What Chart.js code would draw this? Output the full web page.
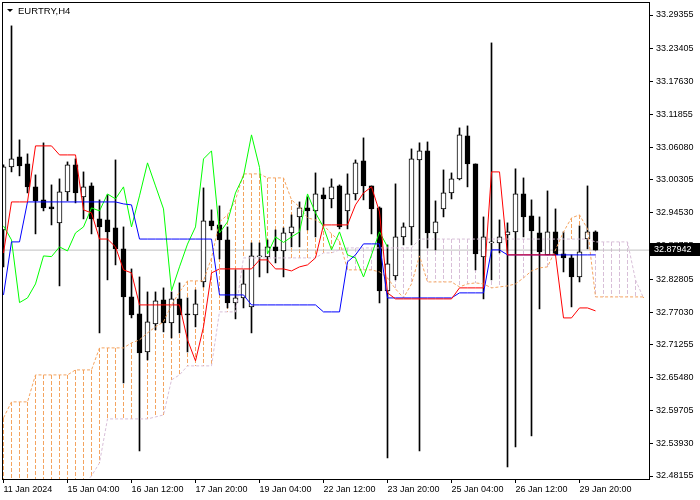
<!DOCTYPE html>
<html>
<head>
<meta charset="utf-8">
<script src="https://cdn.jsdelivr.net/npm/chart.js@4.4.1/dist/chart.umd.min.js"></script>
<style>
  html, body { margin: 0; padding: 0; background: #fff; }
  canvas { display: block; }
</style>
</head>
<body>
<canvas id="ichimokuChart" width="700" height="500"></canvas>
<script>
// EURTRY H4, bar 0 = 11 Jan 2024, last bar = 74
const opens = [
  32.9150, 33.0260, 33.0436, 33.0313, 32.9908, 32.9679, 32.9555, 32.9274, 32.9820, 33.0295,
  32.9732, 32.9925, 32.9344, 32.9326, 32.9185, 32.8816, 32.7970, 32.7671, 32.7001, 32.7495,
  32.7917, 32.7512, 32.7935, 32.7671, 32.7653, 32.8234, 32.9309, 32.9238, 32.8974, 32.7864,
  32.7952, 32.7794, 32.8675, 32.8675, 32.8851, 32.8780, 32.9097, 32.9379, 32.9538, 32.9485,
  32.9767, 32.9696, 32.9925, 32.9485, 32.9784, 33.0366, 32.9925, 32.9538, 32.8076, 32.8340,
  32.9027, 32.9203, 33.0383, 33.0542, 32.9097, 32.9520, 32.9802, 33.0049, 33.0806, 33.0313,
  32.8675, 32.8921, 32.8921, 32.9062, 32.9115, 32.9784, 32.9397, 32.9097, 32.8710, 32.9115,
  32.8727, 32.8657, 32.8322, 32.8992, 32.9115
];
const highs = [
  33.0295, 33.2744, 33.0736, 33.0489, 33.0119, 33.0683, 32.9943, 33.0049, 33.0348, 33.0401,
  33.0172, 32.9978, 32.9679, 32.9767, 33.0383, 32.9203, 32.8463, 32.8322, 32.8058, 32.8058,
  32.8129, 32.8058, 32.8217, 32.7952, 32.8093, 32.9890, 32.9503, 32.9573, 32.9203, 32.8446,
  32.8446, 32.8921, 32.8921, 32.8974, 32.9150, 32.9185, 32.9414, 32.9643, 32.9732, 33.0154,
  32.9890, 33.0049, 32.9943, 33.0137, 33.0383, 33.0771, 32.9925, 32.9555, 32.8886, 32.9961,
  32.9274, 33.0577, 33.0683, 33.0700, 32.9661, 33.0207, 33.0154, 33.0947, 33.0982, 33.0313,
  32.9379, 33.2444, 32.9326, 32.9274, 33.0225, 33.0066, 32.9679, 32.9379, 32.9837, 32.9520,
  32.9115, 32.8710, 32.9221, 32.9925, 32.9133
];
const lows = [
  32.8499, 33.0172, 33.0102, 32.9802, 32.9080, 32.9485, 32.9238, 32.8164, 32.9661, 32.9626,
  32.9344, 32.9080, 32.7336, 32.8270, 32.8534, 32.6455, 32.7600, 32.5257, 32.6860, 32.7389,
  32.7354, 32.7248, 32.7336, 32.7001, 32.7442, 32.8146, 32.9150, 32.8639, 32.7776, 32.7583,
  32.7776, 32.7336, 32.8322, 32.8393, 32.8569, 32.8322, 32.8851, 32.8851, 32.9150, 32.9027,
  32.9238, 32.9538, 32.9168, 32.9168, 32.9679, 32.9679, 32.9080, 32.7864, 32.5134, 32.8270,
  32.8886, 32.8886, 32.5257, 32.8833, 32.8798, 32.9379, 32.9696, 33.0031, 32.9908, 32.8446,
  32.7935, 32.8270, 32.8745, 32.4975, 32.5328, 32.9027, 32.5522, 32.7759, 32.8710, 32.8710,
  32.8410, 32.7794, 32.8234, 32.8816, 32.8794
];
const closes = [
  33.0260, 33.0401, 33.0278, 32.9908, 32.9661, 32.9538, 32.9520, 32.9820, 33.0295, 32.9802,
  32.9908, 32.9344, 32.9203, 32.9115, 32.8816, 32.7970, 32.7653, 32.6984, 32.7530, 32.7900,
  32.7512, 32.7935, 32.7653, 32.7653, 32.7847, 32.9309, 32.9221, 32.8974, 32.7864, 32.7952,
  32.8199, 32.8692, 32.8680, 32.8851, 32.8780, 32.9097, 32.9203, 32.9538, 32.9485, 32.9784,
  32.9696, 32.9908, 32.9203, 32.9784, 33.0331, 32.9925, 32.9520, 32.8076, 32.8551, 32.9027,
  32.9203, 33.0401, 33.0542, 32.9097, 32.9291, 32.9802, 33.0049, 33.0824, 33.0313, 32.8727,
  32.9027, 32.8930, 32.9027, 32.9115, 32.9784, 32.9379, 32.9133, 32.8763, 32.9115, 32.8710,
  32.8657, 32.8322, 32.8763, 32.9115, 32.87942
];

// Ichimoku lines as they appear on the chart
const tenkan = [
  32.8745, 32.9643, 32.9643, 32.9643, 33.0630, 33.0630, 33.0630, 33.0471, 33.0471, 33.0471,
  32.9503, 32.9450, 32.8989, 32.8989, 32.8851, 32.8446, 32.8393, 32.7829, 32.7829, 32.7829,
  32.7829, 32.7829, 32.7829, 32.7213, 32.6843, 32.7442, 32.8393, 32.8463, 32.8463, 32.8463,
  32.8463, 32.8463, 32.8622, 32.8622, 32.8463, 32.8463, 32.8428, 32.8499, 32.8534, 32.8657,
  32.9238, 32.9238, 32.9238, 32.9238, 32.9591, 32.9802, 32.9908, 32.9467, 32.8041, 32.7935,
  32.7935, 32.7935, 32.7935, 32.7935, 32.7935, 32.7935, 32.7935, 32.8129, 32.8129, 32.8129,
  32.8129, 33.0172, 33.0172, 32.8710, 32.8710, 32.8710, 32.8710, 32.8710, 32.8710, 32.8710,
  32.7600, 32.7600, 32.7776, 32.7776, 32.7724
];
const kijun = [
  32.8005, 32.8939, 32.8939, 32.9643, 32.9643, 32.9643, 32.9643, 32.9643, 32.9643, 32.9643,
  32.9643, 32.9643, 32.9643, 32.9643, 32.9643, 32.9608, 32.9591, 32.8989, 32.8989, 32.8989,
  32.8989, 32.8989, 32.8989, 32.8989, 32.8989, 32.8989, 32.8989, 32.8005, 32.8005, 32.8005,
  32.8005, 32.7829, 32.7829, 32.7829, 32.7829, 32.7829, 32.7829, 32.7829, 32.7829, 32.7829,
  32.7706, 32.7706, 32.7706, 32.8587, 32.8710, 32.8904, 32.8904, 32.8904, 32.7952, 32.7952,
  32.7952, 32.7952, 32.7952, 32.7952, 32.7952, 32.7952, 32.7952, 32.8041, 32.8041, 32.8041,
  32.8041, 32.8798, 32.8798, 32.8710, 32.8710, 32.8710, 32.8710, 32.8710, 32.8710, 32.8710,
  32.8710, 32.8710, 32.8710, 32.8710, 32.8710
];
const chikou = [
  32.9221, 32.8974, 32.7870, 32.7952, 32.8199, 32.8692, 32.8680, 32.8851, 32.8780, 32.9097,
  32.9203, 32.9538, 32.9485, 32.9784, 32.9696, 32.9908, 32.9203, 32.9750, 33.0331, 32.9925,
  32.9520, 32.8076, 32.8500, 32.8900, 32.9203, 33.0401, 33.0542, 32.9097, 32.9291, 32.9802,
  33.0100, 33.0824, 33.0250, 32.8727, 32.9027, 32.8930, 32.9027, 32.9115, 32.9784, 32.9450,
  32.9200, 32.8798, 32.9115, 32.8710, 32.8657, 32.8322, 32.8710, 32.9115, 32.8851
];
const spanA = [
  32.5839, 32.6121, 32.6121, 32.6121, 32.6596, 32.6596, 32.6596, 32.6596, 32.6596, 32.6684,
  32.6684, 32.6684, 32.7072, 32.7072, 32.7072, 32.7072, 32.7160, 32.7213, 32.7336, 32.7442,
  32.7530, 32.7829, 32.8058, 32.8252, 32.8252, 32.8252, 32.8657, 32.9291, 32.9415, 32.9679,
  33.0137, 33.0137, 33.0137, 33.0066, 33.0066, 33.0066, 32.9679, 32.9555, 32.9362, 32.9326,
  32.9238, 32.9080, 32.8957, 32.8446, 32.8446, 32.8446, 32.8446, 32.8410, 32.8305, 32.8111,
  32.7952, 32.8199, 32.8692, 32.8234, 32.8234, 32.8234, 32.8234, 32.8146, 32.8199, 32.8217,
  32.8199, 32.8129, 32.8146, 32.8164, 32.8199, 32.8305, 32.8428, 32.8481, 32.8499, 32.8798,
  32.9115, 32.9362, 32.9415, 32.9168, 32.7970, 32.7970, 32.7970, 32.7970, 32.7970, 32.7970,
  32.7970
];
const spanB = [
  32.4650, 32.4650, 32.4650, 32.4650, 32.4650, 32.4650, 32.4650, 32.4650, 32.4650, 32.4650,
  32.4650, 32.4817, 32.5046, 32.5821, 32.5821, 32.5821, 32.5821, 32.5821, 32.5821, 32.5856,
  32.5891, 32.6508, 32.6596, 32.6755, 32.6755, 32.6755, 32.6755, 32.7706, 32.7706, 32.7706,
  32.8657, 32.8657, 32.8657, 32.8657, 32.8657, 32.8657, 32.8657, 32.8657, 32.8657, 32.8657,
  32.8745, 32.8745, 32.8798, 32.8833, 32.8833, 32.8833, 32.8833, 32.8833, 32.8833, 32.8833,
  32.8833, 32.8833, 32.8989, 32.8989, 32.8989, 32.8989, 32.8989, 32.8989, 32.8989, 32.8989,
  32.8989, 32.8989, 32.8989, 32.8989, 32.8989, 32.8989, 32.8989, 32.8989, 32.8989, 32.8989,
  32.8989, 32.8989, 32.8989, 32.8989, 32.8939, 32.8939, 32.8939, 32.8939, 32.8939, 32.8270,
  32.7952
];

const xTickLabels = ['11 Jan 2024', '15 Jan 04:00', '16 Jan 12:00', '17 Jan 20:00', '19 Jan 04:00',
  '22 Jan 12:00', '23 Jan 20:00', '25 Jan 04:00', '26 Jan 12:00', '29 Jan 20:00'];
const xTickBars = [0, 8, 16, 24, 32, 40, 48, 56, 64, 72];
const yTickValues = [33.29355, 33.23405, 33.17630, 33.11855, 33.06080, 33.00305, 32.94530, 32.88755,
  32.82805, 32.77030, 32.71255, 32.65480, 32.59705, 32.53930, 32.48155];
const lastPrice = 32.87942;
const symbolTitle = 'EURTRY,H4';

const FONT = 'Liberation Sans, Arial, sans-serif';

//helper to turn an array into {x, y} points
function toPoints(values) {
    return values.map((v, i) => ({ x: i, y: v }));
}

// dashed vertical lines between the two senkou spans (1px dashes, 4 on / 2 off)
const cloudHatch = {
    id: 'cloudHatch',
    beforeDatasetsDraw(chart) {
        const { ctx, chartArea, scales } = chart;
        ctx.save();
        ctx.beginPath();
        ctx.rect(chartArea.left, chartArea.top, chartArea.right - chartArea.left, chartArea.bottom - chartArea.top);
        ctx.clip();
        spanA.forEach((a, i) => {
            const b = spanB[i];
            const px = Math.floor(scales.x.getPixelForValue(i));
            const top = Math.round(scales.y.getPixelForValue(Math.max(a, b)));
            const bottom = Math.round(scales.y.getPixelForValue(Math.min(a, b)));
            ctx.fillStyle = a >= b ? '#f4a460' : '#d8bfd8';
            for (let py = top; py < bottom; py += 6) {
                ctx.fillRect(px, py, 1, Math.min(4, bottom - py));
            }
        });
        ctx.restore();
    }
};

// frame, symbol title and last price label
const chartDecor = {
    id: 'chartDecor',
    afterDraw(chart) {
        const { ctx, chartArea, scales } = chart;
        ctx.save();
        ctx.strokeStyle = '#000';
        ctx.lineWidth = 1;
        ctx.strokeRect(chartArea.left - 0.5, chartArea.top - 0.5,
            chartArea.right - chartArea.left + 1, chartArea.bottom - chartArea.top + 1);

        // title
        ctx.fillStyle = '#000';
        ctx.beginPath();
        ctx.moveTo(7, 9);
        ctx.lineTo(13, 9);
        ctx.lineTo(10, 12);
        ctx.closePath();
        ctx.fill();
        ctx.font = '9.5px ' + FONT;
        ctx.textBaseline = 'middle';
        ctx.textAlign = 'left';
        ctx.fillText(symbolTitle, 18, 11);

        // current price box
        const py = Math.round(scales.y.getPixelForValue(lastPrice));
        ctx.fillStyle = '#000';
        ctx.fillRect(chartArea.right + 1, py - 7, 700 - chartArea.right, 13);
        ctx.fillStyle = '#fff';
        ctx.font = '9px ' + FONT;
        ctx.fillText(lastPrice.toFixed(5), chartArea.right + 5, py);
        ctx.restore();
    }
};

const ctx = document.getElementById('ichimokuChart').getContext('2d');

const myChart = new Chart(ctx, {
    type: 'bar',
    data: {
        datasets: [
            {
                type: 'line',
                label: 'Tenkan-sen',
                data: toPoints(tenkan),
                borderColor: '#ff0000',
                borderWidth: 1,
                pointRadius: 0,
                tension: 0,
                clip: 0,
                order: 0
            },
            {
                type: 'line',
                label: 'Kijun-sen',
                data: toPoints(kijun),
                borderColor: '#0000ff',
                borderWidth: 1,
                pointRadius: 0,
                tension: 0,
                clip: 0,
                order: 0
            },
            {
                type: 'line',
                label: 'Chikou Span',
                data: toPoints(chikou),
                borderColor: '#00ff00',
                borderWidth: 1,
                pointRadius: 0,
                tension: 0,
                clip: 0,
                order: 0
            },
            {
                type: 'line',
                label: 'Senkou Span A',
                data: toPoints(spanA),
                borderColor: '#f4a460',
                borderWidth: 1,
                borderDash: [3, 2],
                pointRadius: 0,
                tension: 0,
                clip: 0,
                order: 1
            },
            {
                type: 'line',
                label: 'Senkou Span B',
                data: toPoints(spanB),
                borderColor: '#d8bfd8',
                borderWidth: 1,
                borderDash: [3, 2],
                pointRadius: 0,
                tension: 0,
                clip: 0,
                order: 1
            },
            {
                type: 'line',
                label: 'Last price',
                data: [{ x: -1, y: lastPrice }, { x: 82, y: lastPrice }],
                borderColor: '#c0c0c0',
                borderWidth: 1,
                pointRadius: 0,
                clip: 0,
                order: 8
            },
            {
                type: 'bar',
                label: 'Body',
                data: opens.map((o, i) => ({ x: i, y: [o, closes[i]] })),
                backgroundColor: opens.map((o, i) => closes[i] >= o ? '#ffffff' : '#000000'),
                borderColor: '#000000',
                borderWidth: 1,
                borderSkipped: false,
                barThickness: 5,
                minBarLength: 1,
                grouped: false,
                clip: 0,
                order: 5
            },
            {
                type: 'bar',
                label: 'Wick',
                data: lows.map((l, i) => ({ x: i, y: [l, highs[i]] })),
                backgroundColor: '#000000',
                borderWidth: 0,
                barThickness: 1,
                grouped: false,
                clip: 0,
                order: 6
            }
        ]
    },
    options: {
        responsive: false,
        animation: false,
        events: [],
        layout: { padding: { left: 3, top: 3, right: 0, bottom: 0 } },
        scales: {
            x: {
                type: 'linear',
                position: 'bottom',
                offset: false,
                min: -0.0625,
                max: 80.6875,
                afterBuildTicks: scale => {
                    scale.ticks = xTickBars.map(v => ({ value: v }));
                },
                afterFit: scale => {
                    scale.height = 21;
                    scale.paddingLeft = 0;
                    scale.paddingRight = 0;
                },
                grid: { offset: false, drawOnChartArea: false, drawTicks: true, tickLength: 4, color: '#000' },
                border: { display: true, color: '#000' },
                ticks: {
                    autoSkip: false,
                    maxRotation: 0,
                    align: 'start',
                    padding: 1,
                    color: '#000',
                    font: { family: FONT, size: 9 },
                    callback: (v, i) => xTickLabels[i]
                }
            },
            y: {
                type: 'linear',
                position: 'right',
                min: 32.47627,
                max: 33.31469,
                afterBuildTicks: scale => {
                    scale.ticks = yTickValues.map(v => ({ value: v }));
                },
                afterFit: scale => {
                    scale.width = 51;
                    scale.paddingTop = 0;
                    scale.paddingBottom = 0;
                },
                grid: { drawOnChartArea: false, drawTicks: true, tickLength: 4, color: '#000' },
                border: { display: true, color: '#000' },
                ticks: {
                    autoSkip: false,
                    padding: 3,
                    color: '#000',
                    font: { family: FONT, size: 9 },
                    callback: v => v.toFixed(5)
                }
            }
        },
        plugins: {
            legend: { display: false },
            tooltip: { enabled: false }
        }
    },
    plugins: [cloudHatch, chartDecor]
});
</script>
</body>
</html>
